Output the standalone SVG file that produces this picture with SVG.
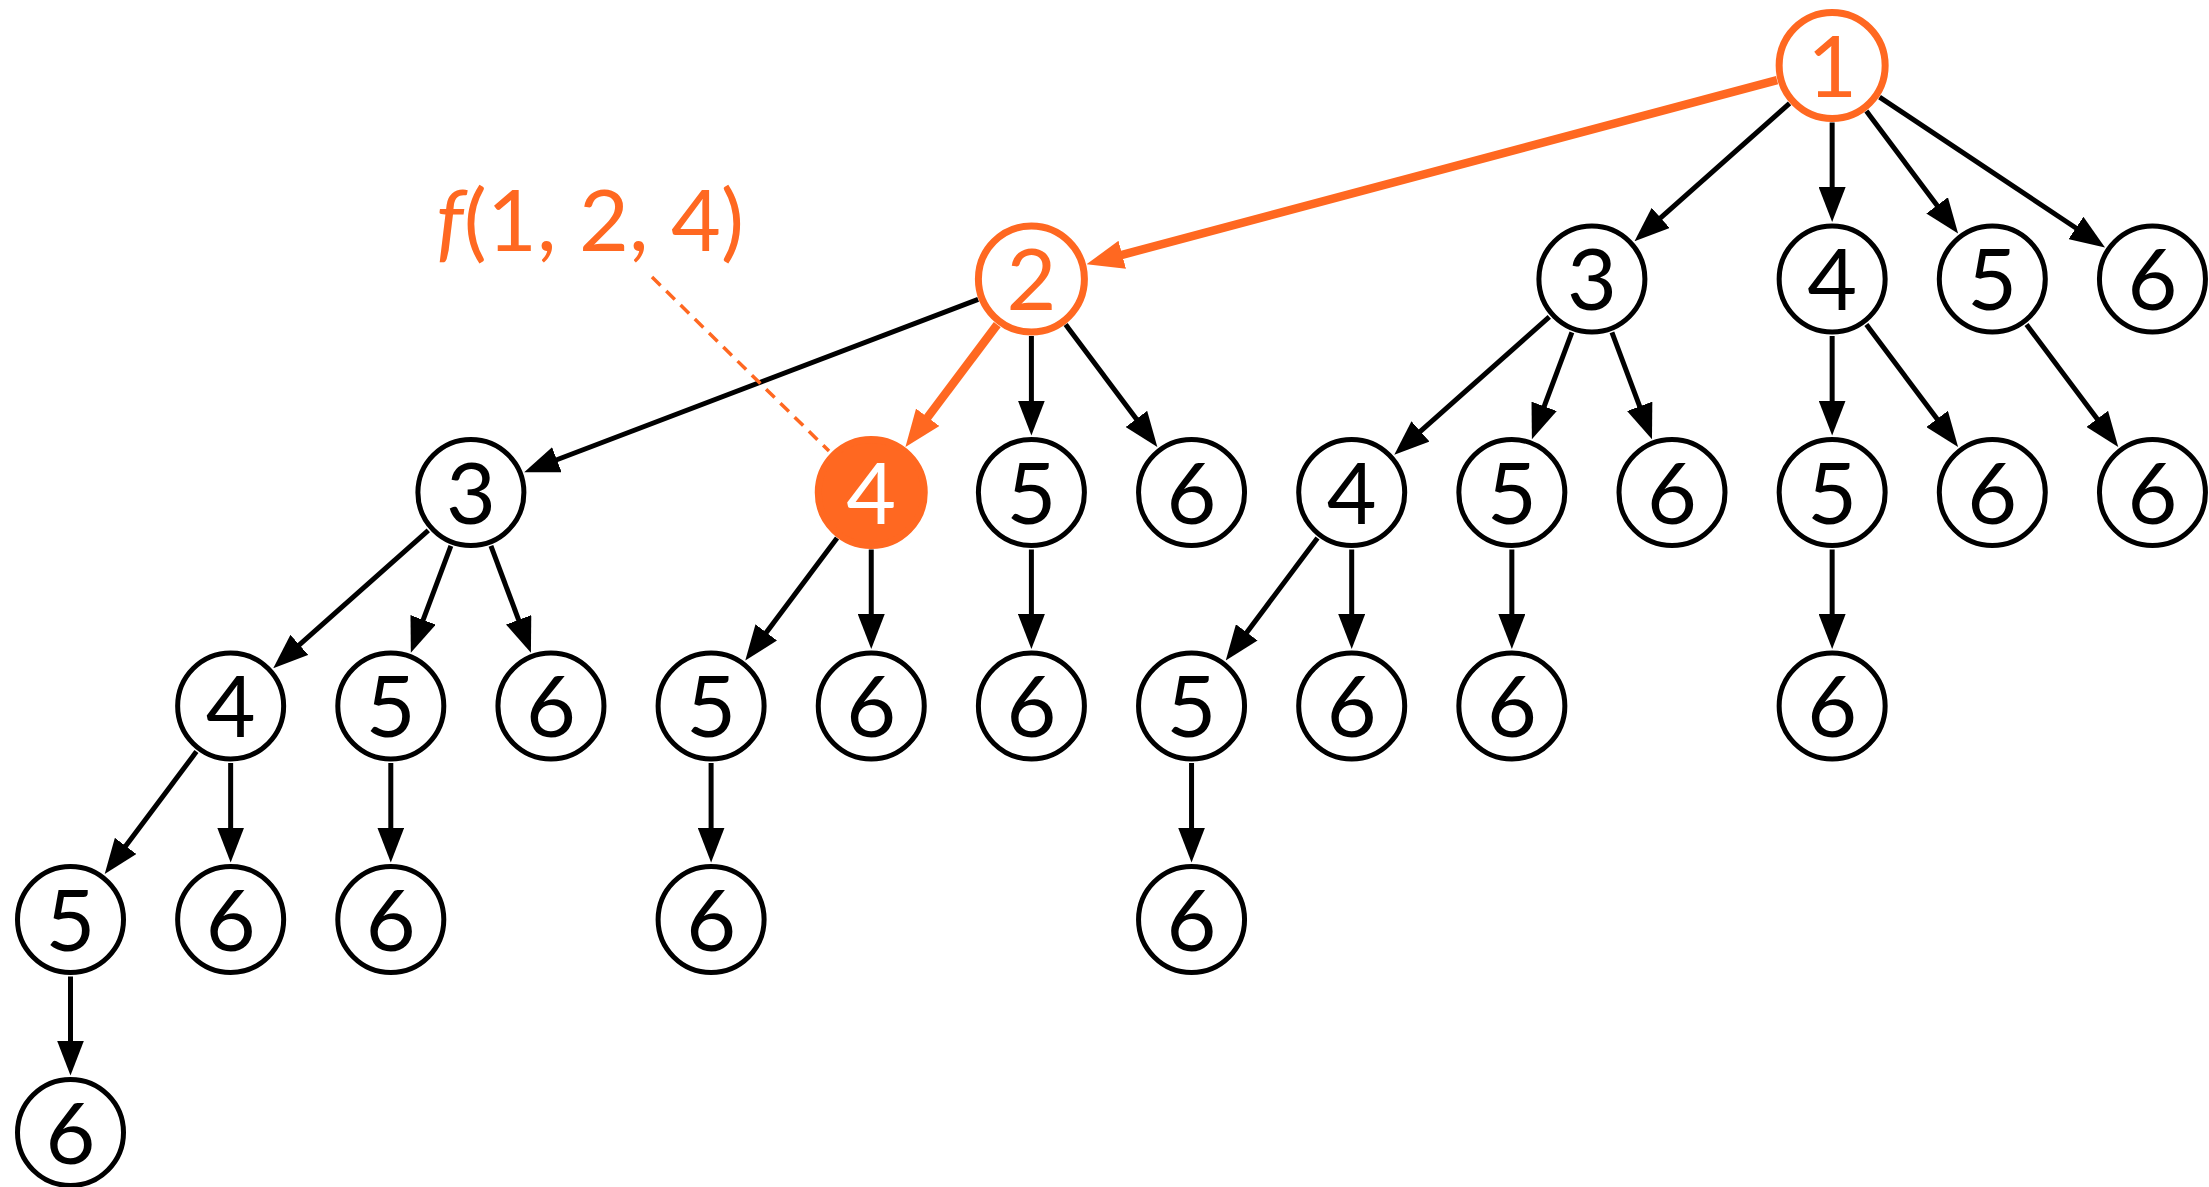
<svg xmlns="http://www.w3.org/2000/svg" width="2209" height="1187" viewBox="0 0 2209 1187">
  <defs>
    <style>
      .node circle { fill: #ffffff; stroke: #000000; stroke-width: 5; }
      .node text { font-family: Lato, "DejaVu Sans", sans-serif; font-size: 86px; fill: #000000; text-anchor: middle; }
      .node.hot circle { stroke: #ff6821; stroke-width: 7; }
      .node.hot text { fill: #ff6821; }
      .node.sel circle { fill: #ff6821; stroke: #ff6821; stroke-width: 7; }
      .node.sel text { fill: #ffffff; }
      .edge { stroke: #000000; stroke-width: 5; fill: none; marker-end: url(#ah); }
      .edge.hot { stroke: #ff6821; stroke-width: 8.5; marker-end: url(#ah-hot); }
      .lead { stroke: #ff6821; stroke-width: 3.5; stroke-dasharray: 12 8; fill: none; }
      .label { font-family: Lato, "DejaVu Sans", sans-serif; font-size: 86px; fill: #ff6821; }
    </style>
    <marker id="ah" markerUnits="userSpaceOnUse" viewBox="0 0 35 27" markerWidth="35" markerHeight="27" refX="5" refY="13.5" orient="auto">
      <path d="M0,0 L35,13.5 L0,27 z" fill="#000000"/>
    </marker>
    <marker id="ah-hot" markerUnits="userSpaceOnUse" viewBox="0 0 37 29" markerWidth="37" markerHeight="29" refX="5" refY="14.5" orient="auto">
      <path d="M0,0 L37,14.5 L0,29 z" fill="#ff6821"/>
    </marker>
  </defs>

  <rect width="2209" height="1187" fill="#ffffff"/>

  <!-- connectors: each subset points to the subsets that extend it -->
  <g id="edges">
    <line class="edge hot" x1="1777.07" y1="80.18" x2="1117.40" y2="256.08"/>
    <line class="edge" x1="1789.54" y1="103.36" x2="1656.93" y2="221.21"/>
    <line class="edge" x1="1832.15" y1="122.5" x2="1832.15" y2="192"/>
    <line class="edge" x1="1866.35" y1="111.10" x2="1940.10" y2="209.40"/>
    <line class="edge" x1="1879.58" y1="97.11" x2="2080.06" y2="230.75"/>

    <line class="edge" x1="978.13" y1="299.29" x2="552.21" y2="461.53"/>
    <line class="edge hot" x1="997.20" y1="324.60" x2="924.65" y2="421.30"/>
    <line class="edge" x1="1031.4" y1="336" x2="1031.4" y2="405.5"/>
    <line class="edge" x1="1065.60" y1="324.60" x2="1139.35" y2="422.90"/>

    <line class="edge" x1="1549.30" y1="316.86" x2="1416.72" y2="434.71"/>
    <line class="edge" x1="1571.88" y1="332.37" x2="1542.41" y2="411.04"/>
    <line class="edge" x1="1611.92" y1="332.37" x2="1641.44" y2="411.04"/>

    <line class="edge" x1="1832.15" y1="336" x2="1832.15" y2="405.5"/>
    <line class="edge" x1="1866.35" y1="324.60" x2="1940.10" y2="422.90"/>
    <line class="edge" x1="2026.50" y1="324.60" x2="2100.25" y2="422.90"/>

    <line class="edge" x1="428.30" y1="530.36" x2="295.67" y2="648.21"/>
    <line class="edge" x1="450.88" y1="545.87" x2="421.36" y2="624.54"/>
    <line class="edge" x1="490.92" y1="545.87" x2="520.39" y2="624.54"/>
    <line class="edge" x1="837.05" y1="538.10" x2="763.30" y2="636.40"/>
    <line class="edge" x1="871.25" y1="549.5" x2="871.25" y2="619"/>
    <line class="edge" x1="1031.4" y1="549.5" x2="1031.4" y2="619"/>
    <line class="edge" x1="1317.50" y1="538.10" x2="1243.75" y2="636.40"/>
    <line class="edge" x1="1351.7" y1="549.5" x2="1351.7" y2="619"/>
    <line class="edge" x1="1511.85" y1="549.5" x2="1511.85" y2="619"/>
    <line class="edge" x1="1832.15" y1="549.5" x2="1832.15" y2="619"/>

    <line class="edge" x1="196.45" y1="751.60" x2="122.70" y2="849.90"/>
    <line class="edge" x1="230.65" y1="763" x2="230.65" y2="832.5"/>
    <line class="edge" x1="390.8" y1="763" x2="390.8" y2="832.5"/>
    <line class="edge" x1="711.1" y1="763" x2="711.1" y2="832.5"/>
    <line class="edge" x1="1191.55" y1="763" x2="1191.55" y2="832.5"/>

    <line class="edge" x1="70.5" y1="976.5" x2="70.5" y2="1045.5"/>

    <!-- leader from the label to the highlighted node -->
    <line class="lead" x1="652" y1="277" x2="829" y2="451"/>
  </g>

  <text id="label-f124" class="label" x="436" y="251" textLength="308" lengthAdjust="spacing"><tspan font-style="italic">f</tspan>(1, 2, 4)</text>

  <!-- row 0 -->
  <g id="n1" class="node hot"><circle cx="1832.15" cy="65.5" r="53"/><text x="1832.15" y="96.5">1</text></g>

  <!-- row 1 -->
  <g id="n12" class="node hot"><circle cx="1031.4" cy="279" r="53"/><text x="1031.4" y="310">2</text></g>
  <g id="n13" class="node"><circle cx="1591.9" cy="279" r="53"/><text x="1591.9" y="310">3</text></g>
  <g id="n14" class="node"><circle cx="1832.15" cy="279" r="53"/><text x="1832.15" y="310">4</text></g>
  <g id="n15" class="node"><circle cx="1992.3" cy="279" r="53"/><text x="1992.3" y="310">5</text></g>
  <g id="n16" class="node"><circle cx="2152.45" cy="279" r="53"/><text x="2152.45" y="310">6</text></g>

  <!-- row 2 -->
  <g id="n123" class="node"><circle cx="470.9" cy="492.5" r="53"/><text x="470.9" y="523.5">3</text></g>
  <g id="n124" class="node sel"><circle cx="871.25" cy="492.5" r="53"/><text x="871.25" y="523.5">4</text></g>
  <g id="n125" class="node"><circle cx="1031.4" cy="492.5" r="53"/><text x="1031.4" y="523.5">5</text></g>
  <g id="n126" class="node"><circle cx="1191.55" cy="492.5" r="53"/><text x="1191.55" y="523.5">6</text></g>
  <g id="n134" class="node"><circle cx="1351.7" cy="492.5" r="53"/><text x="1351.7" y="523.5">4</text></g>
  <g id="n135" class="node"><circle cx="1511.85" cy="492.5" r="53"/><text x="1511.85" y="523.5">5</text></g>
  <g id="n136" class="node"><circle cx="1672" cy="492.5" r="53"/><text x="1672" y="523.5">6</text></g>
  <g id="n145" class="node"><circle cx="1832.15" cy="492.5" r="53"/><text x="1832.15" y="523.5">5</text></g>
  <g id="n146" class="node"><circle cx="1992.3" cy="492.5" r="53"/><text x="1992.3" y="523.5">6</text></g>
  <g id="n156" class="node"><circle cx="2152.45" cy="492.5" r="53"/><text x="2152.45" y="523.5">6</text></g>

  <!-- row 3 -->
  <g id="n1234" class="node"><circle cx="230.65" cy="706" r="53"/><text x="230.65" y="737">4</text></g>
  <g id="n1235" class="node"><circle cx="390.8" cy="706" r="53"/><text x="390.8" y="737">5</text></g>
  <g id="n1236" class="node"><circle cx="550.95" cy="706" r="53"/><text x="550.95" y="737">6</text></g>
  <g id="n1245" class="node"><circle cx="711.1" cy="706" r="53"/><text x="711.1" y="737">5</text></g>
  <g id="n1246" class="node"><circle cx="871.25" cy="706" r="53"/><text x="871.25" y="737">6</text></g>
  <g id="n1256" class="node"><circle cx="1031.4" cy="706" r="53"/><text x="1031.4" y="737">6</text></g>
  <g id="n1345" class="node"><circle cx="1191.55" cy="706" r="53"/><text x="1191.55" y="737">5</text></g>
  <g id="n1346" class="node"><circle cx="1351.7" cy="706" r="53"/><text x="1351.7" y="737">6</text></g>
  <g id="n1356" class="node"><circle cx="1511.85" cy="706" r="53"/><text x="1511.85" y="737">6</text></g>
  <g id="n1456" class="node"><circle cx="1832.15" cy="706" r="53"/><text x="1832.15" y="737">6</text></g>

  <!-- row 4 -->
  <g id="n12345" class="node"><circle cx="70.5" cy="919.5" r="53"/><text x="70.5" y="950.5">5</text></g>
  <g id="n12346" class="node"><circle cx="230.65" cy="919.5" r="53"/><text x="230.65" y="950.5">6</text></g>
  <g id="n12356" class="node"><circle cx="390.8" cy="919.5" r="53"/><text x="390.8" y="950.5">6</text></g>
  <g id="n12456" class="node"><circle cx="711.1" cy="919.5" r="53"/><text x="711.1" y="950.5">6</text></g>
  <g id="n13456" class="node"><circle cx="1191.55" cy="919.5" r="53"/><text x="1191.55" y="950.5">6</text></g>

  <!-- row 5 -->
  <g id="n123456" class="node"><circle cx="70.5" cy="1132.5" r="53"/><text x="70.5" y="1163.5">6</text></g>
</svg>
